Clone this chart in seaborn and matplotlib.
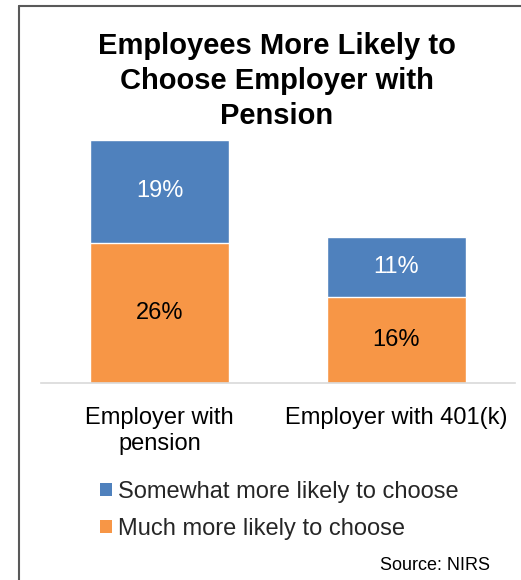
import matplotlib
matplotlib.use("Agg")
import matplotlib.pyplot as plt
import seaborn as sns
import pandas as pd
from matplotlib.patches import Patch
from matplotlib.lines import Line2D

categories = ["Employer with\npension", "Employer with 401(k)"]
much_more = [26, 16]
somewhat_more = [19, 11]
series_names = ["Somewhat more likely to choose", "Much more likely to choose"]

BLUE = "#4F81BD"
ORANGE = "#F79646"

sns.set_theme(style="white")
plt.rcParams["font.family"] = ["Liberation Sans", "DejaVu Sans"]

df = pd.DataFrame({"category": categories, "much": much_more, "somewhat": somewhat_more})
df["total"] = df["much"] + df["somewhat"]

fig = plt.figure(figsize=(5.21, 5.80), dpi=100)
ax = fig.add_axes([41 / 521, 1 - 383 / 580, 474 / 521, 270 / 580])

sns.barplot(data=df, x="category", y="total", color=BLUE, width=0.587, saturation=1, ax=ax)
sns.barplot(data=df, x="category", y="much", color=ORANGE, width=0.587, saturation=1, ax=ax)

ax.set_ylim(0, 50)
ax.set_xlim(-0.5, 1.5)
ax.set_xlabel("")
ax.set_ylabel("")
ax.set_yticks([])
for s in ["top", "right", "left"]:
    ax.spines[s].set_visible(False)
ax.spines["bottom"].set_color("#D9D9D9")
ax.spines["bottom"].set_linewidth(1.2)
ax.tick_params(axis="x", length=0, pad=17, labelsize=17, colors="black")
for lab in ax.get_xticklabels():
    lab.set_linespacing(1.25)

for i in range(len(categories)):
    m = much_more[i]
    s = somewhat_more[i]
    ax.text(i, m / 2, f"{m}%", ha="center", va="center", fontsize=17, color="black")
    ax.text(i, m + s / 2, f"{s}%", ha="center", va="center", fontsize=17, color="white")

fig.text(276.5 / 521, 1 - 81 / 580,
         "Employees More Likely to\nChoose Employer with\nPension",
         ha="center", va="center", fontsize=21, fontweight="bold", linespacing=1.3,
         color="black")

handles = [Patch(facecolor=BLUE, edgecolor="none"), Patch(facecolor=ORANGE, edgecolor="none")]
fig.legend(handles, series_names, loc="upper left",
           bbox_to_anchor=(100 / 521, 1 - 481 / 580), frameon=False, fontsize=17,
           handlelength=0.5, handleheight=0.5, handletextpad=0.25, labelspacing=0.63,
           borderpad=0, borderaxespad=0)

fig.text(490 / 521, 1 - 566 / 580, "Source: NIRS", ha="right", va="center",
         fontsize=13, color="black")

# frame around chart area (left and top edges visible)
fig.add_artist(Line2D([19 / 521, 19 / 521], [0, 1 - 6 / 580], transform=fig.transFigure,
                      color="#595959", linewidth=1.5))
fig.add_artist(Line2D([19 / 521, 1.01], [1 - 6 / 580, 1 - 6 / 580], transform=fig.transFigure,
                      color="#595959", linewidth=1.5))

fig.savefig("out.png", dpi=100)
